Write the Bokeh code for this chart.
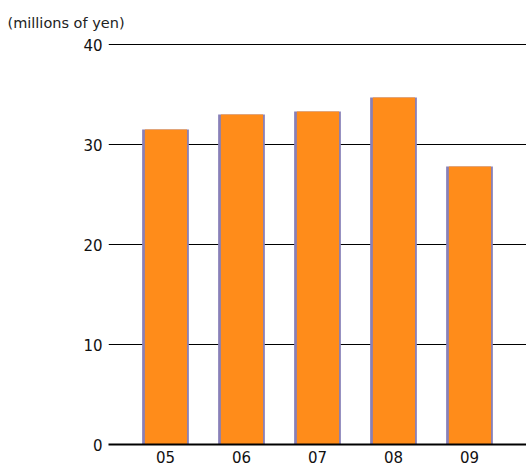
from bokeh.plotting import figure
from bokeh.models import FactorRange, Range1d, ColumnDataSource, FixedTicker
from bokeh.transform import dodge
from bokeh.embed import file_html
from bokeh.resources import INLINE

years = ["05", "06", "07", "08", "09"]
sales = [31.5, 33.0, 33.3, 34.7, 27.8]
y_ticks = [0, 10, 20, 30, 40]
unit_label = "(millions of yen)"

src = ColumnDataSource(data=dict(year=years, value=sales))

p = figure(
    x_range=FactorRange(*years, range_padding=0.25, range_padding_units="absolute"),
    y_range=Range1d(0, 40.1),
    width=526, height=472,
    output_backend="svg", toolbar_location=None,
    min_border_left=108, min_border_right=0, min_border_top=43, min_border_bottom=28,
    title=unit_label,
)
p.outline_line_color = None
p.background_fill_color = "white"
p.border_fill_color = "white"

p.title.text_font = "DejaVu Sans"
p.title.text_font_size = "14.5px"
p.title.text_font_style = "normal"
p.title.text_color = "#222222"
p.title.align = "left"
p.title.offset = -101
p.title.standoff = 25

# bars: lavender back edge + orange face
p.vbar(x="year", top="value", width=0.615, bottom=0, source=src,
       fill_color="#8880b8", line_color=None)
p.vbar(x=dodge("year", 0.006, range=p.x_range), top="value", width=0.555, bottom=0,
       source=src, fill_color="#ff8c1a", line_color=None)

# grid
p.xgrid.grid_line_color = None
p.ygrid.grid_line_color = "black"
p.ygrid.grid_line_width = 1
p.ygrid.ticker = FixedTicker(ticks=y_ticks)
p.ygrid.level = "underlay"

# y axis
p.yaxis.ticker = FixedTicker(ticks=y_ticks)
p.yaxis.axis_line_color = None
p.yaxis.major_tick_line_color = None
p.yaxis.minor_tick_line_color = None
p.yaxis.major_tick_out = 0
p.yaxis.major_label_standoff = 6
p.yaxis.major_label_text_font = "DejaVu Sans"
p.yaxis.major_label_text_font_size = "15px"
p.yaxis.major_label_text_color = "#111111"

# x axis
p.xaxis.axis_line_color = "black"
p.xaxis.axis_line_width = 2
p.xaxis.major_tick_line_color = None
p.xaxis.major_tick_out = 0
p.xaxis.major_label_standoff = 6
p.xaxis.major_label_text_font = "DejaVu Sans"
p.xaxis.major_label_text_font_size = "15px"
p.xaxis.major_label_text_color = "#111111"

open("out.html", "w").write(file_html(p, INLINE))
